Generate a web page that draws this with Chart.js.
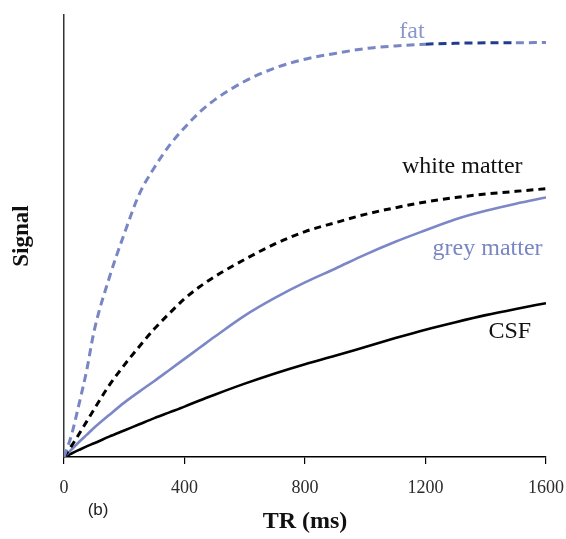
<!DOCTYPE html>
<html lang="en">
<head>
    <meta charset="UTF-8">
    <title>Signal vs TR</title>
    <script src="https://cdn.jsdelivr.net/npm/chart.js"></script>
    <style>
        body {
            margin: 0;
            padding: 0;
            background: #fff;
        }
        .chart-box {
            width: 566px;
            height: 539px;
            position: relative;
        }
    </style>
</head>
<body>
    <div class="chart-box">
        <canvas id="chart"></canvas>
    </div>
    <script>
        // TR values (ms) shared by all curves
        const trValues = [0, 25, 50, 75, 100, 150, 200, 250, 300, 350, 400, 450, 500, 600, 700, 800, 900, 1000, 1100, 1200, 1300, 1400, 1500, 1600];

        // signal, as fraction of the plot height
        const fatSignal   = [0, 0.05, 0.12, 0.195, 0.285, 0.405, 0.505, 0.595, 0.655, 0.705, 0.745, 0.78, 0.808, 0.85, 0.88, 0.90, 0.913, 0.924, 0.93, 0.934, 0.936, 0.937, 0.937, 0.938];
        const whiteSignal = [0, 0.025, 0.052, 0.08, 0.108, 0.162, 0.208, 0.25, 0.29, 0.325, 0.358, 0.385, 0.408, 0.447, 0.482, 0.51, 0.53, 0.549, 0.564, 0.577, 0.587, 0.595, 0.601, 0.607];
        const greySignal  = [0, 0.017, 0.034, 0.05, 0.066, 0.095, 0.123, 0.148, 0.172, 0.197, 0.222, 0.247, 0.272, 0.32, 0.36, 0.395, 0.426, 0.458, 0.487, 0.513, 0.538, 0.557, 0.573, 0.587];
        const csfSignal   = [0, 0.008, 0.016, 0.024, 0.031, 0.046, 0.06, 0.074, 0.088, 0.101, 0.114, 0.128, 0.141, 0.166, 0.189, 0.21, 0.229, 0.249, 0.269, 0.288, 0.305, 0.321, 0.335, 0.348];

        const xTicks = [0, 400, 800, 1200, 1600];

        const serif = '"Liberation Serif", "Times New Roman", serif';
        const fatColor = '#7886c4';
        const greyColor = '#7b87c6';

        function toPoints(values) {
            return trValues.map((tr, i) => ({ x: tr, y: values[i] }));
        }

        // curve labels, placed in data coordinates
        const curveLabels = [
            { text: 'fat', x: 1155, y: 0.948, color: '#8a96c9', font: '24px ' + serif },
            { text: 'white matter', x: 1322, y: 0.643, color: '#111', font: '24px ' + serif },
            { text: 'grey matter', x: 1406, y: 0.457, color: '#7a86c2', font: '24px ' + serif },
            { text: 'CSF', x: 1480, y: 0.269, color: '#111', font: '24px ' + serif },
            { text: '(b)', x: 113, y: -0.12, color: '#222', font: '17px "Liberation Sans", Arial, sans-serif', middle: true }
        ];

        const labelPlugin = {
            id: 'curveLabels',
            afterDraw(chart) {
                const ctx = chart.ctx;
                const xs = chart.scales.x;
                const ys = chart.scales.y;
                ctx.save();
                curveLabels.forEach(l => {
                    ctx.font = l.font;
                    ctx.fillStyle = l.color;
                    ctx.textAlign = 'center';
                    ctx.textBaseline = l.middle ? 'middle' : 'alphabetic';
                    ctx.fillText(l.text, xs.getPixelForValue(l.x), ys.getPixelForValue(l.y));
                });
                ctx.restore();
            }
        };

        new Chart(document.getElementById('chart'), {
            type: 'line',
            data: {
                datasets: [
                    {
                        label: 'fat',
                        data: toPoints(fatSignal),
                        borderColor: fatColor,
                        borderWidth: 3,
                        borderDash: [8, 5],
                        segment: {
                            borderColor: c => (c.p0.parsed.x >= 1200 && c.p1.parsed.x <= 1500) ? '#1f3d8c' : fatColor
                        }
                    },
                    {
                        label: 'white matter',
                        data: toPoints(whiteSignal),
                        borderColor: '#000',
                        borderWidth: 3,
                        borderDash: [7, 5]
                    },
                    {
                        label: 'grey matter',
                        data: toPoints(greySignal),
                        borderColor: greyColor,
                        borderWidth: 2.6
                    },
                    {
                        label: 'CSF',
                        data: toPoints(csfSignal),
                        borderColor: '#000',
                        borderWidth: 2.6
                    }
                ]
            },
            options: {
                responsive: true,
                maintainAspectRatio: false,
                animation: false,
                devicePixelRatio: 1,
                layout: { padding: { top: 15, right: 20, left: 0, bottom: 0 } },
                elements: {
                    point: { radius: 0 },
                    line: { cubicInterpolationMode: 'monotone', fill: false }
                },
                plugins: {
                    legend: { display: false },
                    tooltip: { enabled: false }
                },
                scales: {
                    x: {
                        type: 'linear',
                        min: 0,
                        max: 1600,
                        afterBuildTicks: s => { s.ticks = xTicks.map(v => ({ value: v })); },
                        afterFit: s => { s.height = 82; s.paddingRight = 0; s.paddingLeft = 0; },
                        grid: {
                            display: true,
                            drawOnChartArea: false,
                            drawTicks: true,
                            tickLength: 7,
                            color: '#000',
                            lineWidth: 1.2
                        },
                        border: { display: true, color: '#000', width: 1.5 },
                        ticks: {
                            color: '#2b2b2b',
                            font: { family: serif, size: 18 },
                            padding: 13,
                            maxRotation: 0,
                            callback: v => String(v)
                        },
                        title: {
                            display: true,
                            text: 'TR (ms)',
                            color: '#111',
                            font: { family: serif, size: 24, weight: 'bold' },
                            padding: { top: 0, bottom: 3 }
                        }
                    },
                    y: {
                        min: 0,
                        max: 1,
                        afterFit: s => { s.width = 64; },
                        grid: { display: false },
                        border: { display: true, color: '#333', width: 1.5 },
                        ticks: { display: false },
                        title: {
                            display: true,
                            text: 'Signal',
                            color: '#111',
                            font: { family: serif, size: 23, weight: 'bold' },
                            padding: { top: 8, bottom: 0 }
                        }
                    }
                }
            },
            plugins: [labelPlugin]
        });
    </script>
</body>
</html>
